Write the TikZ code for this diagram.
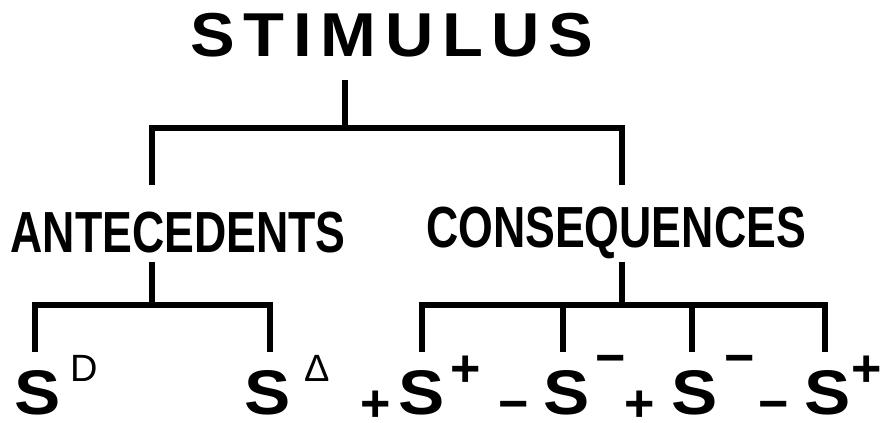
\documentclass[tikz,border=0pt]{standalone}
\usepackage{fontspec}
\setmainfont{Liberation Sans}
\newfontfamily\widefont[LetterSpace=14,FakeStretch=1.08]{Liberation Sans}
\newfontfamily\condfont[FakeStretch=0.77]{Liberation Sans}
\newfontfamily\sfont[FakeStretch=1.1]{Liberation Sans}
\usetikzlibrary{positioning}

\begin{document}
\begin{tikzpicture}[x=1pt,y=-1pt,
    branch/.style={line width=5.5pt,line join=miter},
    headlabel/.style={inner sep=0pt,anchor=base,font=\widefont\bfseries\fontsize{62}{62}\selectfont},
    sublabel/.style={inner sep=0pt,anchor=base,font=\condfont\bfseries\fontsize{58}{58}\selectfont},
    bigS/.style={inner sep=0pt,anchor=base,text depth=0pt,font=\sfont\bfseries\fontsize{63}{63}\selectfont},
    suplabel/.style={inner sep=0pt,anchor=base,text depth=0pt,font=\fontsize{38}{38}\selectfont},
    sign/.style={inner sep=0pt,anchor=base,text depth=0pt,font=\bfseries\fontsize{52}{52}\selectfont}]
  \useasboundingbox (0,0) rectangle (881,423);
  % labels
  \node[headlabel] (stimulus) at (392,56) {STIMULUS};
  \node[sublabel] (antecedents) at (178,252) {ANTECEDENTS};
  \node[sublabel] (consequences) at (616,247) {CONSEQUENCES};
  % bottom row
  \node[bigS] (sD) at (38,414) {S};
  \node[suplabel] (supD) at (84,381) {D};
  \node[bigS] (sDelta) at (268,414) {S};
  \node[suplabel] (supDelta) at (317,381) {Δ};
  \node[sign] (preA) at (376,421) {+};
  \node[bigS] (sA) at (422,414) {S};
  \node[sign] (supA) at (466,386) {+};
  \node[sign] (preB) at (514,421) {−};
  \node[bigS] (sB) at (567,414) {S};
  \node[sign] (supB) at (611,375) {−};
  \node[sign] (preC) at (640,421) {+};
  \node[bigS] (sC) at (695,414) {S};
  \node[sign] (supC) at (740,375) {−};
  \node[sign] (preD) at (774,421) {−};
  \node[bigS] (sE) at (828,414) {S};
  \node[sign] (supE) at (867,386) {+};
  % tree
  \coordinate (stimfoot) at (345,80);
  \coordinate (antetop) at (152,185);
  \coordinate (constop) at (622,185);
  \draw[branch] (stimfoot) -- ++(0,48) coordinate (split);
  \draw[branch] (antetop) |- (constop |- split) -- (constop);
  \coordinate (antefoot) at (152,262);
  \coordinate (consfoot) at (622,262);
  \draw[branch] (antefoot) -- ++(0,43) coordinate (antesplit);
  \draw[branch] (consfoot) -- ++(0,43) coordinate (conssplit);
  \coordinate (dropD) at (35,352);
  \coordinate (dropDelta) at (270,352);
  \draw[branch] (dropD) |- (dropDelta |- antesplit) -- (dropDelta);
  \coordinate (dropA) at (422,352);
  \coordinate (dropB) at (563,352);
  \coordinate (dropC) at (692,352);
  \coordinate (dropE) at (825,352);
  \draw[branch] (dropA) |- (dropE |- conssplit) -- (dropE);
  \foreach \d in {dropB,dropC}
    \draw[branch] (\d |- conssplit) -- (\d);
\end{tikzpicture}
\end{document}
